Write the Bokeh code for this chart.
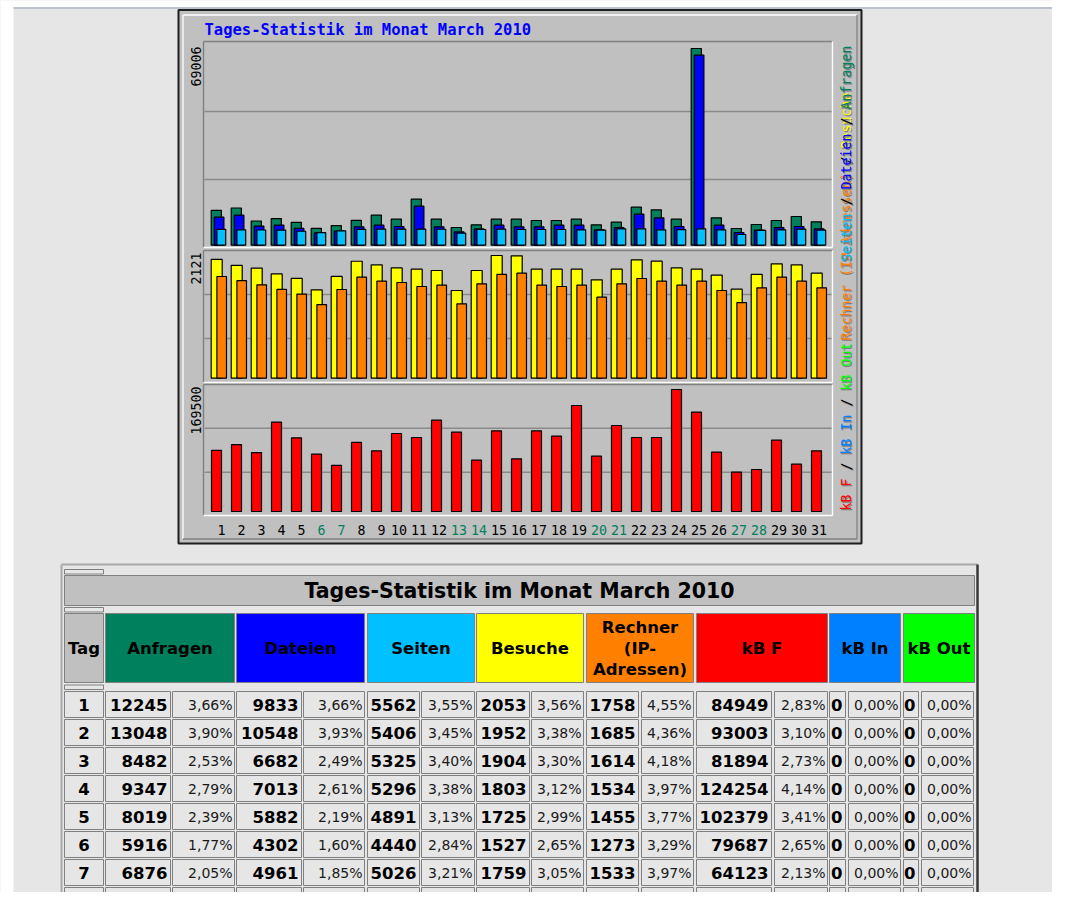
import math
from bokeh.plotting import figure
from bokeh.models import Range1d, ColumnDataSource
from bokeh.transform import dodge
from bokeh.core.properties import value
from bokeh.embed import file_html
from bokeh.resources import INLINE

# ---------------- data ----------------
days = list(range(1, 32))
day_labels = [str(d) for d in days]
weekend_days = [6, 7, 13, 14, 20, 21, 27, 28]

anfragen = [12245, 13048, 8482, 9347, 8019, 5916, 6876, 8739, 10525, 9121, 16137, 9121, 6210, 7157, 9121, 9121,
            8665, 8665, 9121, 7157, 8070, 13331, 12419, 9121, 69006, 9612, 5859, 7262, 8665, 10069, 8210]
dateien = [9833, 10548, 6682, 7013, 5882, 4302, 4961, 6458, 7016, 6560, 13682, 6450, 4700, 5700, 7016, 6450,
           6450, 7016, 7016, 5400, 6200, 10876, 9612, 6560, 66660, 7016, 4455, 5300, 6200, 6560, 5730]
seiten = [5562, 5406, 5325, 5296, 4891, 4440, 5026, 5566, 5613, 5613, 5613, 5600, 4210, 5500, 5613, 5500,
          5500, 5500, 5380, 5270, 5730, 5730, 5380, 5450, 5730, 5380, 3754, 5200, 5380, 5613, 5270]
besuche = [2053, 1952, 1904, 1803, 1725, 1527, 1759, 2022, 1959, 1907, 1884, 1862, 1516, 1862, 2121, 2115,
           1884, 1884, 1884, 1700, 1884, 2046, 2023, 1907, 1884, 1781, 1539, 1793, 1977, 1959, 1815]
rechner = [1758, 1685, 1614, 1534, 1455, 1273, 1533, 1746, 1677, 1654, 1585, 1608, 1285, 1631, 1793, 1815,
           1608, 1585, 1608, 1400, 1631, 1723, 1677, 1608, 1677, 1516, 1308, 1562, 1746, 1677, 1562]
kb_f = [84949, 93003, 81894, 124254, 102379, 79687, 64123, 95912, 84290, 108370, 102810, 126890, 110220, 71320,
        112070, 73170, 112070, 104660, 147270, 76875, 119480, 102810, 102810, 169500, 138000, 82430, 54650,
        58350, 99100, 65760, 84290]

chart_title = "Tages-Statistik im Monat March 2010"
table_title = "Tages-Statistik im Monat March 2010"
legend_hits = [("Seiten", "pages"), ("/", "black"), ("Dateien", "files"), ("/", "black"), ("Anfragen", "hits")]
legend_sites = [("Rechner (IP-Adressen)", "sites"), ("/", "black"), ("Besuche", "visits")]
legend_kb = [("kB F", "kb"), ("/", "black"), ("kB In", "kbin"), ("/", "black"), ("kB Out", "kbout")]

table_days = [1, 2, 3, 4, 5, 6, 7, 8]
anf_pct = ["3,66%", "3,90%", "2,53%", "2,79%", "2,39%", "1,77%", "2,05%", "2,61%"]
dat_pct = ["3,66%", "3,93%", "2,49%", "2,61%", "2,19%", "1,60%", "1,85%", "2,41%"]
sei_pct = ["3,55%", "3,45%", "3,40%", "3,38%", "3,13%", "2,84%", "3,21%", "3,56%"]
bes_pct = ["3,56%", "3,38%", "3,30%", "3,12%", "2,99%", "2,65%", "3,05%", "3,50%"]
rec_pct = ["4,55%", "4,36%", "4,18%", "3,97%", "3,77%", "3,29%", "3,97%", "4,52%"]
kbf_pct = ["2,83%", "3,10%", "2,73%", "4,14%", "3,41%", "2,65%", "2,13%", "3,19%"]
kb_in = [0, 0, 0, 0, 0, 0, 0, 0]
kb_in_pct = ["0,00%", "0,00%", "0,00%", "0,00%", "0,00%", "0,00%", "0,00%", "0,00%"]
kb_out = [0, 0, 0, 0, 0, 0, 0, 0]
kb_out_pct = ["0,00%", "0,00%", "0,00%", "0,00%", "0,00%", "0,00%", "0,00%", "0,00%"]
header_labels = ["Tag", "Anfragen", "Dateien", "Seiten", "Besuche", "Rechner\n(IP-\nAdressen)", "kB F", "kB In", "kB Out"]

# ---------------- styles ----------------
COL = dict(hits="#00805c", files="#0000ff", pages="#00c0ff", visits="#ffff00", sites="#ff8000",
           kb="#ff0000", kbin="#0080ff", kbout="#00ff00", black="#000000")
header_colors = ["#c0c0c0", COL["hits"], COL["files"], COL["pages"], COL["visits"], COL["sites"],
                 COL["kb"], COL["kbin"], COL["kbout"]]
PAGE = "#e6e6e6"
CHART_BG = "#c0c0c0"
DKGREY = "#808080"
MONO = value("DejaVu Sans Mono")
SANS = value("DejaVu Sans")

X0, X1, Y0, Y1 = 0, 1052, 0, 892
W, H = X1 - X0, Y1 - Y0
p = figure(width=W, height=H, x_range=Range1d(X0, X1), y_range=Range1d(Y1, Y0),
           output_backend="svg", toolbar_location=None, min_border=0)
p.xaxis.visible = False
p.yaxis.visible = False
p.xgrid.visible = False
p.ygrid.visible = False
p.outline_line_color = None
p.background_fill_color = PAGE
p.border_fill_color = PAGE

# page frame details
p.quad(left=[X0], right=[13], top=[Y0], bottom=[Y1], fill_color="white", line_color=None)
p.quad(left=[X0], right=[X1], top=[Y0], bottom=[6.5], fill_color="white", line_color=None)
p.segment(x0=[13], y0=[7.5], x1=[X1], y1=[7.5], line_color="#bcc3cf", line_width=2)

# ---------------- chart box ----------------
p.quad(left=[178], right=[861], top=[9.5], bottom=[543], fill_color=CHART_BG, line_color="#1e1e1e", line_width=2)
p.segment(x0=[182.5, 182.5], y0=[14.5, 14.5], x1=[856.5, 182.5], y1=[14.5, 538.5], line_color="white", line_width=1.3)
p.segment(x0=[182.5, 856.5], y0=[538.5, 14.5], x1=[856.5, 856.5], y1=[538.5, 538.5], line_color=DKGREY, line_width=1.3)

p.text(x=[204], y=[29], text=[chart_title], text_color="#0000ff", text_font=MONO, text_font_style="bold",
       text_font_size="15.5px", text_align="left", text_baseline="middle")

PL, PR = 203, 832
panels = [(41, 247), (250, 382), (384, 515)]
for (pt, pb) in panels:
    p.segment(x0=[PL, PL], y0=[pt, pt], x1=[PR, PL], y1=[pt, pb], line_color=DKGREY, line_width=1.4)
    p.segment(x0=[PL, PR], y0=[pb, pt], x1=[PR, PR], y1=[pb, pb], line_color="white", line_width=1.4)
grid_y = [111, 179, 294, 338, 427.7, 471.7]
p.segment(x0=[PL + 1] * 6, y0=grid_y, x1=[PR - 1] * 6, y1=grid_y, line_color="#8a8a8a", line_width=1.5)

# scales: day -> page x of the slot (20 px per day), value -> panel heights
p.extra_x_ranges = {"d": Range1d(start=-(191 - X0) / 20.0, end=-(191 - X0) / 20.0 + W / 20.0)}


def vrange(base, px, vmax):
    k = px / vmax
    return Range1d(start=(base - Y1) / k, end=(base - Y0) / k)


p.extra_y_ranges = {
    "p1": vrange(244.7, 196.7, max(anfragen)),
    "p2": vrange(377.7, 122.7, max(besuche)),
    "p3": vrange(511.0, 122.0, max(kb_f)),
}

src = ColumnDataSource(dict(day=days, anf=anfragen, dat=dateien, sei=seiten, bes=besuche, rec=rechner, kbf=kb_f))
bar_kw = dict(source=src, bottom=0, line_color="black", line_width=1.2, x_range_name="d")
p.vbar(x=dodge("day", 0.24), width=0.51, top="anf", fill_color=COL["hits"], y_range_name="p1", **bar_kw)
p.vbar(x=dodge("day", 0.38), width=0.48, top="dat", fill_color=COL["files"], y_range_name="p1", **bar_kw)
p.vbar(x=dodge("day", 0.49), width=0.44, top="sei", fill_color=COL["pages"], y_range_name="p1", **bar_kw)
p.vbar(x=dodge("day", 0.26), width=0.55, top="bes", fill_color=COL["visits"], y_range_name="p2", **bar_kw)
p.vbar(x=dodge("day", 0.51), width=0.48, top="rec", fill_color=COL["sites"], y_range_name="p2", **bar_kw)
p.vbar(x=dodge("day", 0.25), width=0.50, top="kbf", fill_color=COL["kb"], y_range_name="p3", **bar_kw)

# x labels
lab_x = [d + (0.5 if len(s) == 1 else 0.38) for d, s in zip(days, day_labels)]
lab_c = [COL["hits"] if d in weekend_days else "black" for d in days]
p.text(x=lab_x, y=[529] * 31, text=day_labels, text_color=lab_c, x_range_name="d", text_font=MONO,
       text_font_size="13.3px", text_align="center", text_baseline="middle")

# max values (rotated)
maxes = [str(max(anfragen)), str(max(besuche)), str(max(kb_f))]
p.text(x=[195.5] * 3, y=[46, 252, 386], text=maxes, angle=math.pi / 2, text_font=MONO, text_font_size="13.3px",
       text_align="right", text_baseline="middle", text_color="black")

# right legends (rotated, upward)
CH = 8.0


def up_legend(tokens, y_start, x=845.5):
    full = " / ".join(t for t, _ in tokens if t != "/")
    ys, ts, cs = [], [], []
    idx = 0
    for t, c in tokens:
        i = full.find(t, idx)
        ys.append(y_start - CH * i)
        ts.append(t)
        cs.append(COL[c])
        idx = i + len(t)
    p.text(x=[x + 1.3] * len(ts), y=[y + 1.3 for y in ys], text=ts, text_color=DKGREY, angle=math.pi / 2,
           text_font=MONO, text_font_size="13.3px", text_align="left", text_baseline="middle")
    p.text(x=[x] * len(ts), y=ys, text=ts, text_color=cs, angle=math.pi / 2,
           text_font=MONO, text_font_size="13.3px", text_align="left", text_baseline="middle")


up_legend(legend_sites, 340)
up_legend(legend_hits, 261)
up_legend(legend_kb, 510)

# ---------------- table ----------------
TL, TR = 61, 977
p.segment(x0=[TL, TL], y0=[564, 564], x1=[TR, TL], y1=[564, Y1], line_color="#a8a8a8", line_width=2)
p.segment(x0=[TR], y0=[564], x1=[TR], y1=[Y1], line_color="#3a3a3a", line_width=2.5)

# small spacer cells
sp = [(569, 573.5), (607, 611.5), (684.5, 689)]
p.quad(left=[64] * 3, right=[103] * 3, top=[a for a, b in sp], bottom=[b for a, b in sp], fill_color=PAGE,
       line_color=DKGREY, line_width=1)
# title row
p.quad(left=[64], right=[974], top=[575], bottom=[605], fill_color="#c0c0c0", line_color=DKGREY, line_width=1)
p.text(x=[519], y=[590.5], text=[table_title], text_font=SANS, text_font_style="bold", text_font_size="20.5px",
       text_align="center", text_baseline="middle", text_color="black")

# header row
hdr = [(64, 103), (105, 234), (236, 364), (367, 474), (476, 583), (586, 693), (696, 827), (829, 900), (903, 974)]
p.quad(left=[a for a, b in hdr], right=[b for a, b in hdr], top=[613] * 9, bottom=[682] * 9,
       fill_color=header_colors, line_color=DKGREY, line_width=1)
hx, hy, ht = [], [], []
for (a, b), lab in zip(hdr, header_labels):
    lines = lab.split("\n")
    for k, ln in enumerate(lines):
        hx.append((a + b) / 2)
        hy.append(647.5 + (k - (len(lines) - 1) / 2) * 21)
        ht.append(ln)
p.text(x=hx, y=hy, text=ht, text_font=SANS, text_font_style="bold", text_font_size="16.5px",
       text_align="center", text_baseline="middle", text_color="black")

# data rows
cols = [(64, 103), (105, 170), (172, 234), (236, 301), (303, 364), (367, 419), (421, 474), (476, 529),
        (531, 583), (586, 638), (641, 693), (696, 771), (774, 827), (829, 845), (848, 900), (903, 918), (921, 973)]
R0, RP, RH = 691, 28, 26
cl, cr, ctop, cbot = [], [], [], []
for r in range(len(table_days)):
    for (a, b) in cols:
        cl.append(a); cr.append(b); ctop.append(R0 + r * RP); cbot.append(R0 + r * RP + RH)
p.quad(left=cl, right=cr, top=ctop, bottom=cbot, fill_color=PAGE, line_color=DKGREY, line_width=1)

num_cols = [anfragen, dateien, seiten, besuche, rechner, kb_f, kb_in, kb_out]
pct_cols = [anf_pct, dat_pct, sei_pct, bes_pct, rec_pct, kbf_pct, kb_in_pct, kb_out_pct]
tx, ty, tt = [], [], []
vx, vy, vt = [], [], []
qx, qy, qt = [], [], []
for r, d in enumerate(table_days):
    yc = R0 + r * RP + RH / 2 + 0.5
    a, b = cols[0]
    tx.append((a + b) / 2); ty.append(yc); tt.append(str(d))
    for j in range(8):
        va, vb = cols[1 + 2 * j]
        pa, pb = cols[2 + 2 * j]
        vx.append(vb - 3); vy.append(yc); vt.append(str(num_cols[j][r]))
        qx.append(pb - 2); qy.append(yc); qt.append(pct_cols[j][r])
p.text(x=tx, y=ty, text=tt, text_font=SANS, text_font_style="bold", text_font_size="16.5px",
       text_align="center", text_baseline="middle", text_color="black")
p.text(x=vx, y=vy, text=vt, text_font=SANS, text_font_style="bold", text_font_size="16.5px",
       text_align="right", text_baseline="middle", text_color="black")
p.text(x=qx, y=qy, text=qt, text_font=SANS, text_font_size="14px",
       text_align="right", text_baseline="middle", text_color="#1a1a1a")

open("out.html", "w").write(file_html(p, INLINE))
